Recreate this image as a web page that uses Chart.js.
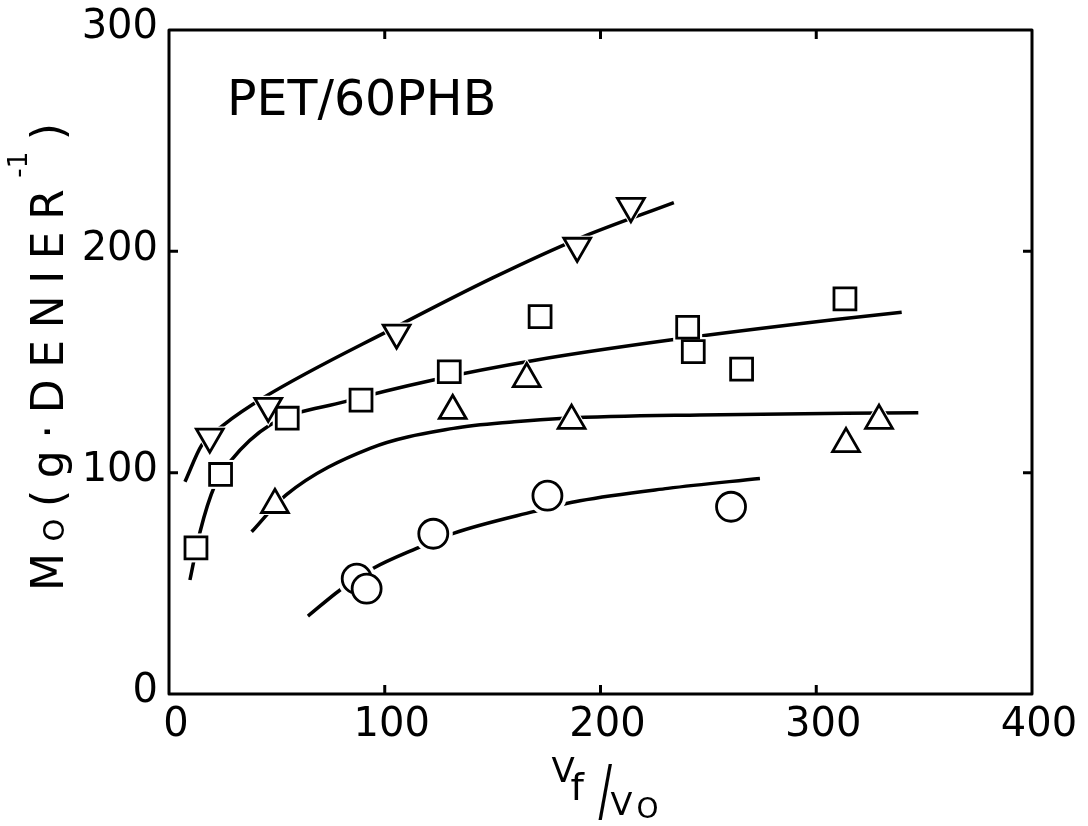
<!DOCTYPE html>
<html><head><meta charset="utf-8">
<script src="https://cdn.jsdelivr.net/npm/chart.js@4.4.0/dist/chart.umd.min.js"></script>
<style>html,body{margin:0;padding:0;background:#fff;} canvas{display:block;}</style>
</head><body>
<canvas id="c" width="1088" height="826"></canvas>
<script>
// ---- data ----
const xTickValues = [0, 100, 200, 300, 400];
const yTickValues = [0, 100, 200, 300];

// inverted triangles
const invTriX = [18.9, 46.0, 105.5, 189.2, 214.1];
const invTriY = [116.2, 130.1, 163.2, 202.4, 220.4];
// squares
const squareX = [12.5, 23.9, 54.8, 89.0, 129.9, 172.0, 240.4, 243.0, 265.4, 313.3];
const squareY = [66.0, 99.2, 124.6, 132.8, 145.6, 170.5, 165.7, 154.7, 146.8, 178.5];
// upright triangles
const triX = [49.1, 131.5, 165.8, 186.6, 313.8, 329.1];
const triY = [85.5, 128.0, 142.4, 123.5, 113.0, 123.5];
// circles
const circleX = [87.0, 91.6, 122.5, 175.4, 260.5];
const circleY = [52.1, 47.6, 72.4, 89.6, 84.6];

// hand-drawn fitted curves
const invTriCurveX = [7.4, 15.2, 25.2, 44.5, 105.5, 150.0, 190.5, 234.0];
const invTriCurveY = [95.9, 112.5, 121.5, 134.3, 166.0, 188.0, 206.0, 222.0];
const squareCurveX = [9.7, 14.4, 21.3, 28.3, 46.8, 81.6, 122.5, 170.4, 232.2, 307.9, 339.6];
const squareCurveY = [51.5, 73.3, 94.4, 105.0, 121.5, 132.1, 141.9, 150.9, 159.9, 169.1, 172.5];
const triCurveX = [38.3, 54.3, 93.2, 131.8, 160.0, 183.2, 246.1, 347.3];
const triCurveY = [73.3, 90.0, 111.0, 120.0, 123.0, 124.6, 126.1, 127.1];
const circleCurveX = [64.4, 79.3, 94.7, 114.8, 131.8, 168.9, 190.5, 231.2, 273.9];
const circleCurveY = [35.2, 47.0, 56.8, 65.8, 72.6, 82.4, 87.3, 92.9, 97.4];

const panelLabel = 'PET/60PHB';

// ---- helpers ----
const FONT = 'DejaVu Sans';
function pts(xs, ys) { return xs.map((x, i) => ({ x: x, y: ys[i] })); }
function curve(xs, ys) {
  return { data: pts(xs, ys), showLine: true, pointRadius: 0, pointHoverRadius: 0,
    borderColor: '#000', borderWidth: 3.5, cubicInterpolationMode: 'monotone',
    fill: false, order: 3 };
}
function halo(xs, ys, style, r, rot) {
  return { data: pts(xs, ys), showLine: false, pointStyle: style, pointRadius: r + 5,
    pointRotation: rot || 0, pointBackgroundColor: '#fff', pointBorderColor: '#fff',
    pointBorderWidth: 0, order: 2 };
}
function marks(xs, ys, style, r, rot) {
  return { data: pts(xs, ys), showLine: false, pointStyle: style, pointRadius: r,
    pointRotation: rot || 0, pointBackgroundColor: '#fff', pointBorderColor: '#000',
    pointBorderWidth: 2.8, order: 1 };
}

function setFont(ctx, size) { ctx.font = size + 'px "' + FONT + '"'; }
function drawRun(ctx, pieces, gap) {
  let x = 0;
  pieces.forEach((p, i) => {
    setFont(ctx, p.size);
    ctx.fillText(p.t, x, p.dy || 0);
    x += ctx.measureText(p.t).width + (i < pieces.length - 1 ? gap : 0);
  });
  return x;
}
function runWidth(ctx, pieces) {
  let w = 0;
  pieces.forEach(p => { setFont(ctx, p.size); w += ctx.measureText(p.t).width; });
  return w;
}

const decor = {
  id: 'decor',
  afterDraw(chart) {
    const ctx = chart.ctx, a = chart.chartArea, sx = chart.scales.x, sy = chart.scales.y;
    ctx.save();
    ctx.strokeStyle = '#000';
    ctx.lineWidth = 3;
    ctx.lineJoin = 'round';
    ctx.strokeRect(a.left, a.top, a.right - a.left, a.bottom - a.top);
    const L = 9;
    ctx.beginPath();
    sx.ticks.forEach(t => {
      if (t.value > sx.min && t.value < sx.max) {
        const p = sx.getPixelForValue(t.value);
        ctx.moveTo(p, a.bottom); ctx.lineTo(p, a.bottom - L);
        ctx.moveTo(p, a.top); ctx.lineTo(p, a.top + L);
      }
    });
    sy.ticks.forEach(t => {
      if (t.value > sy.min && t.value < sy.max) {
        const p = sy.getPixelForValue(t.value);
        ctx.moveTo(a.left, p); ctx.lineTo(a.left + L, p);
        ctx.moveTo(a.right, p); ctx.lineTo(a.right - L, p);
      }
    });
    ctx.stroke();

    ctx.fillStyle = '#000';
    ctx.textBaseline = 'alphabetic';
    ctx.textAlign = 'left';
    // panel label
    setFont(ctx, 49);
    ctx.fillText(panelLabel, a.left + 58, a.top + 85);

    // y-axis title, rotated, centred on the plot height
    const yPieces = [
      { t: 'M', size: 44 }, { t: 'O', size: 29, dy: 1 }, { t: '(', size: 44 },
      { t: 'g', size: 44 }, { t: '\u00B7', size: 44 }, { t: 'D', size: 44 },
      { t: 'E', size: 44 }, { t: 'N', size: 44 }, { t: 'I', size: 44 },
      { t: 'E', size: 44 }, { t: 'R', size: 44 }, { t: '-1', size: 26, dy: -36 },
      { t: ')', size: 44 }
    ];
    const total = 468;
    const gap = (total - runWidth(ctx, yPieces)) / (yPieces.length - 1);
    const midY = (a.top + a.bottom) / 2 - 5;
    ctx.save();
    ctx.translate(63, midY + total / 2);
    ctx.rotate(-Math.PI / 2);
    drawRun(ctx, yPieces, gap);
    ctx.restore();

    // x-axis title  V_f / V_o
    const cx = (a.left + a.right) / 2;
    setFont(ctx, 34);
    ctx.fillText('V', cx - 49, 782);
    setFont(ctx, 38);
    ctx.fillText('f', cx - 30, 800);
    ctx.save();
    ctx.translate(cx - 2, 814);
    ctx.scale(1, 1.7);
    setFont(ctx, 40);
    ctx.fillText('/', 0, 0);
    ctx.restore();
    setFont(ctx, 32);
    ctx.fillText('V', cx + 10, 815);
    setFont(ctx, 28);
    ctx.fillText('O', cx + 36, 818);
    ctx.restore();
  }
};

new Chart(document.getElementById('c'), {
  type: 'scatter',
  data: {
    datasets: [
      curve(invTriCurveX, invTriCurveY),
      curve(squareCurveX, squareCurveY),
      curve(triCurveX, triCurveY),
      curve(circleCurveX, circleCurveY),
      halo(invTriX, invTriY, 'triangle', 15.5, 180),
      halo(squareX, squareY, 'rect', 15.5),
      halo(triX, triY, 'triangle', 15.5),
      halo(circleX, circleY, 'circle', 14.5),
      marks(invTriX, invTriY, 'triangle', 15.5, 180),
      marks(squareX, squareY, 'rect', 15.5),
      marks(triX, triY, 'triangle', 15.5),
      marks(circleX, circleY, 'circle', 14.5)
    ]
  },
  options: {
    responsive: false,
    devicePixelRatio: 1,
    animation: false,
    layout: { padding: { top: 30, right: 56, bottom: 0, left: 0 } },
    plugins: { legend: { display: false }, tooltip: { enabled: false } },
    scales: {
      x: {
        type: 'linear', min: 0, max: 400,
        grid: { display: false }, border: { display: false },
        afterBuildTicks: s => { s.ticks = xTickValues.map(v => ({ value: v })); },
        afterFit: s => { s.height = 132; },
        ticks: { font: { family: FONT, size: 40 }, color: '#000', padding: 0,
          maxRotation: 0, autoSkip: false, labelOffset: 7 }
      },
      y: {
        type: 'linear', min: 0, max: 300,
        grid: { display: false }, border: { display: false },
        afterBuildTicks: s => { s.ticks = yTickValues.map(v => ({ value: v })); },
        afterFit: s => { s.width = 169; },
        ticks: { font: { family: FONT, size: 40 }, color: '#000', padding: 3,
          autoSkip: false, labelOffset: -2 }
      }
    }
  },
  plugins: [decor]
});
</script>
</body></html>
